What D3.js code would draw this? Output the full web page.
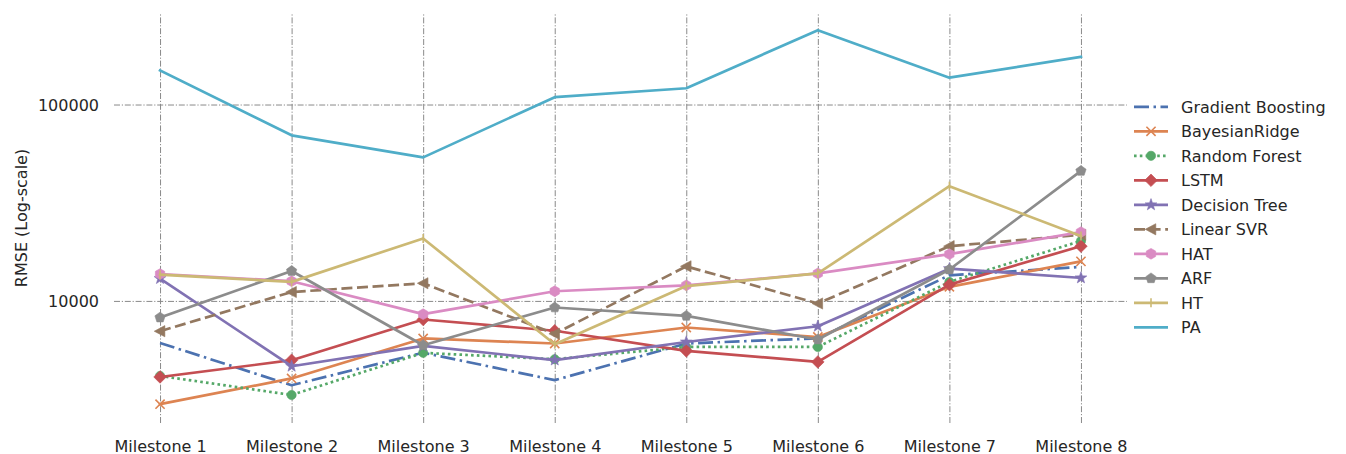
<!DOCTYPE html>
<html>
<head>
<meta charset="utf-8">
<script src="https://cdn.jsdelivr.net/npm/d3@7"></script>
<style>
  html, body { margin: 0; padding: 0; background: #fff; }
  svg { display: block; font-family: "DejaVu Sans", sans-serif; }
</style>
</head>
<body>
<svg id="chart" width="1346" height="454"></svg>
<script>
// Milestones along the x axis
const categories = ["Milestone 1", "Milestone 2", "Milestone 3", "Milestone 4",
                    "Milestone 5", "Milestone 6", "Milestone 7", "Milestone 8"];

// RMSE per model at each milestone
const gradientBoosting = [6110, 3720, 5450, 3950, 6070, 6450, 13500, 14900];
const bayesianRidge    = [2980, 4030, 6440, 6070, 7320, 6550, 11800, 15900];
const randomForest     = [4150, 3320, 5440, 5050, 5830, 5830, 12500, 20200];
const lstm             = [4100, 4990, 8040, 7050, 5570, 4890, 12100, 19000];
const decisionTree     = [13000, 4650, 5900, 5000, 6180, 7430, 14600, 13100];
const linearSVR        = [7010, 11100, 12300, 6800, 15000, 9700, 19000, 21700];
const hat              = [13700, 12600, 8560, 11200, 12000, 13800, 17300, 22400];
const arf              = [8230, 14200, 5950, 9260, 8390, 6360, 14450, 45900];
const ht               = [13600, 12500, 20800, 6020, 11900, 13800, 38400, 21400];
const pa               = [149000, 69700, 53800, 109000, 121000, 239000, 137000, 175000];

// Labelled y ticks
const yTickValues = [10000, 100000];

const seriesNames  = ["Gradient Boosting", "BayesianRidge", "Random Forest", "LSTM",
                      "Decision Tree", "Linear SVR", "HAT", "ARF", "HT", "PA"];
const seriesValues = [gradientBoosting, bayesianRidge, randomForest, lstm,
                      decisionTree, linearSVR, hat, arf, ht, pa];

// Styling per series
const colors  = ["#4C72B0", "#DD8452", "#55A868", "#C44E52", "#8172B3",
                 "#937860", "#DA8BC3", "#8C8C8C", "#CCB974", "#4FADC8"];
const dashes  = ["15,4.5,2.5,4.5", null, "2.6,3.2", null, null,
                 "11,4.6", null, null, null, null];
const markers = [null, "x", "circle", "diamond", "star",
                 "triLeft", "hexagon", "pentagon", "vline", null];

const svg = d3.select("#chart");
const lineW = 2.7;

// Axes box
const plotLeft = 114, plotRight = 1127, plotTop = 13, plotBottom = 423;

const x = d3.scaleLinear().domain([-0.35, categories.length - 1 + 0.35]).range([plotLeft, plotRight]);
const y = d3.scaleLog().domain([2390, 292400]).range([plotBottom, plotTop]);

const gridColor = "#8a8a8a";
const gridDash = "6,1.8,1.2,1.8";
const textColor = "#262626";

// Vertical grid + x labels
const xAxis = d3.axisBottom(x)
  .tickValues(d3.range(categories.length))
  .tickFormat(i => categories[i])
  .tickSizeInner(-(plotBottom - plotTop))
  .tickSizeOuter(0);
const gx = svg.append("g").attr("transform", `translate(0,${plotBottom})`).call(xAxis);
gx.select(".domain").remove();
gx.selectAll(".tick line")
  .attr("stroke", gridColor).attr("stroke-width", 1).attr("stroke-dasharray", gridDash);
gx.selectAll(".tick text")
  .attr("y", 28.5).attr("dy", null)
  .attr("fill", textColor).attr("font-size", 16)
  .attr("font-family", "DejaVu Sans, sans-serif");

// Horizontal grid + y labels
const yAxis = d3.axisLeft(y)
  .tickValues(yTickValues)
  .tickFormat(d3.format("d"))
  .tickSizeInner(-(plotRight - plotLeft))
  .tickSizeOuter(0);
const gy = svg.append("g").attr("transform", `translate(${plotLeft},0)`).call(yAxis);
gy.select(".domain").remove();
gy.selectAll(".tick line")
  .attr("stroke", gridColor).attr("stroke-width", 1).attr("stroke-dasharray", gridDash);
gy.selectAll(".tick text")
  .attr("x", -15).attr("dy", 6)
  .attr("fill", textColor).attr("font-size", 16)
  .attr("font-family", "DejaVu Sans, sans-serif");

// Y axis title
svg.append("text")
  .attr("transform", "translate(26.5,218) rotate(-90)")
  .attr("text-anchor", "middle")
  .attr("fill", textColor).attr("font-size", 16)
  .text("RMSE (Log-scale)");

// Marker shapes
function polygon(pts) {
  return "M" + pts.map(p => p[0].toFixed(2) + "," + p[1].toFixed(2)).join("L") + "Z";
}
function regular(n, r, rot) {
  const pts = [];
  for (let i = 0; i < n; i++) {
    const a = rot + i * 2 * Math.PI / n;
    pts.push([r * Math.cos(a), r * Math.sin(a)]);
  }
  return polygon(pts);
}
function markerPath(kind) {
  switch (kind) {
    case "x": { const r = 4.6; return `M${-r},${-r}L${r},${r}M${-r},${r}L${r},${-r}`; }
    case "circle": return regular(24, 4.6, 0);
    case "diamond": return polygon([[0, -6.3], [6.3, 0], [0, 6.3], [-6.3, 0]]);
    case "star": {
      const pts = [];
      for (let i = 0; i < 10; i++) {
        const r = i % 2 === 0 ? 6.2 : 2.5;
        const a = -Math.PI / 2 + i * Math.PI / 5;
        pts.push([r * Math.cos(a), r * Math.sin(a)]);
      }
      return polygon(pts);
    }
    case "triLeft": return polygon([[-5.8, 0], [4.8, -5.6], [4.8, 5.6]]);
    case "hexagon": return regular(6, 5.4, -Math.PI / 2);
    case "pentagon": return regular(5, 5.4, -Math.PI / 2);
    case "vline": return "M0,-4.5L0,4.5";
  }
  return null;
}
const strokeMarkers = new Set(["x", "vline"]);

function drawMarker(g, kind, color, cx, cy) {
  const p = markerPath(kind);
  if (!p) return;
  const m = g.append("path").attr("d", p).attr("transform", `translate(${cx},${cy})`);
  if (strokeMarkers.has(kind)) {
    m.attr("fill", "none").attr("stroke", color).attr("stroke-width", 1.6);
  } else {
    m.attr("fill", color).attr("stroke", color).attr("stroke-width", 0.6);
  }
}

const line = d3.line().x((d, i) => x(i)).y(d => y(d));

// Series lines with markers
seriesValues.forEach((vals, k) => {
  const g = svg.append("g");
  g.append("path")
    .attr("d", line(vals))
    .attr("fill", "none")
    .attr("stroke", colors[k])
    .attr("stroke-width", lineW)
    .attr("stroke-linejoin", "round")
    .attr("stroke-linecap", dashes[k] ? "butt" : "square")
    .attr("stroke-dasharray", dashes[k]);
  if (markers[k]) vals.forEach((v, i) => drawMarker(g, markers[k], colors[k], x(i), y(v)));
});

// Legend
const legend = svg.append("g");
const legX0 = 1134, legX1 = 1168, legTextX = 1181, legY0 = 106.8, legStep = 24.5;
seriesNames.forEach((name, k) => {
  const ly = legY0 + k * legStep;
  const g = legend.append("g");
  g.append("line")
    .attr("x1", legX0).attr("x2", legX1).attr("y1", ly).attr("y2", ly)
    .attr("stroke", colors[k]).attr("stroke-width", lineW)
    .attr("stroke-dasharray", dashes[k]);
  drawMarker(g, markers[k], colors[k], (legX0 + legX1) / 2, ly);
  g.append("text")
    .attr("x", legTextX).attr("y", ly + 5.8)
    .attr("fill", textColor).attr("font-size", 16)
    .text(name);
});
</script>
</body>
</html>
